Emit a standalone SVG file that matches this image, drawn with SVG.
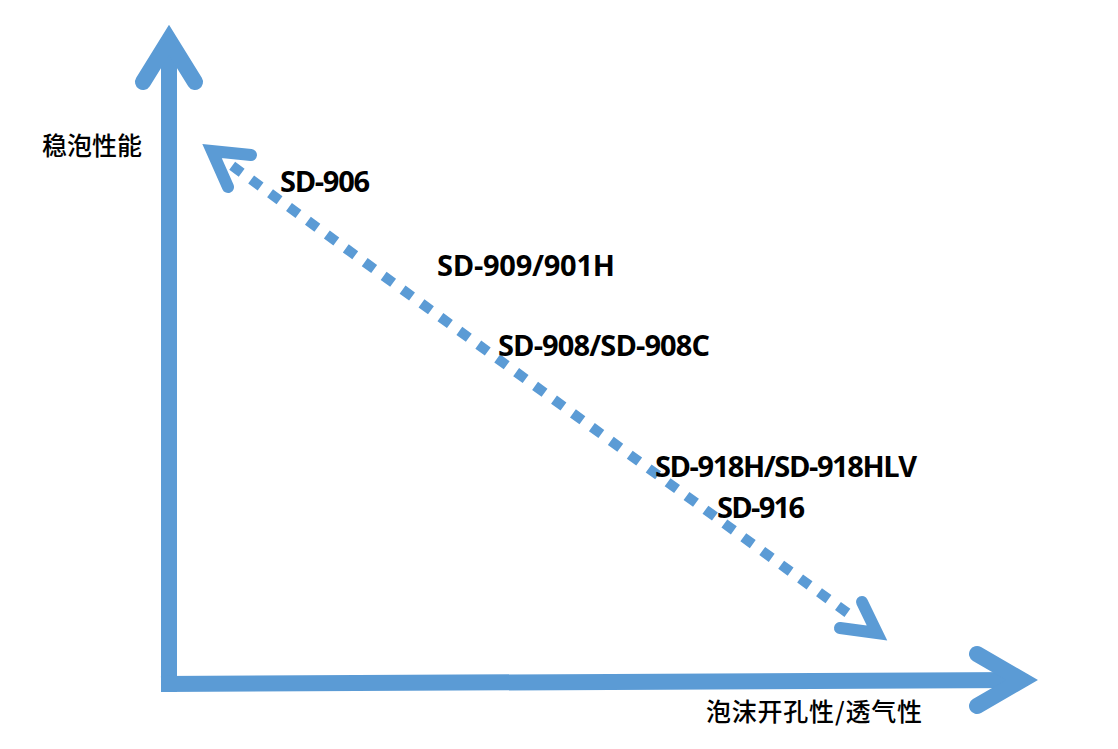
<svg xmlns="http://www.w3.org/2000/svg" width="1118" height="749" viewBox="0 0 1118 749">
<style>
.ax{fill:none;stroke:#5B9BD5;stroke-width:16;stroke-linecap:butt}
.hd{fill:none;stroke:#5B9BD5;stroke-width:16;stroke-linecap:round;stroke-linejoin:miter;stroke-miterlimit:10}
.dot{fill:none;stroke:#5B9BD5;stroke-width:10;stroke-dasharray:11.7 11.7}
.dh{fill:none;stroke:#5B9BD5;stroke-width:12;stroke-linecap:round;stroke-linejoin:miter;stroke-miterlimit:10}
.lb{font-family:"Open Sans","Liberation Sans",sans-serif;font-weight:700;font-size:29px;fill:#000}
.cn{font-family:"Noto Sans CJK SC","Noto Sans",sans-serif;font-weight:500;font-size:25px;fill:#000}
</style>
<rect width="1118" height="749" fill="#fff"/>
<g id="connectors">
  <path class="ax" d="M169,692 L169,42"/>
  <path class="hd" d="M143,82 L169,40 L195,82"/>
  <path class="ax" d="M161,684 L1020,680"/>
  <path class="hd" d="M977,654 L1022,680 L977,706"/>
  <path class="dot" d="M232.2,165.8 L847.6,613"/>
  <path class="dh" d="M251,155 L212,151 L228,187"/>
  <path class="dh" d="M862,602 L877,633 L840,628"/>
</g>
<g id="y-label"><text class="cn" x="42" y="155" textLength="100">稳泡性能</text></g>
<g id="x-label"><text class="cn" x="706" y="721" font-size="27" textLength="216">泡沫开孔性/透气性</text></g>
<g id="sd906"><text class="lb" x="280" y="192" textLength="90">SD-906</text></g>
<g id="sd909"><text class="lb" x="437" y="276" textLength="178">SD-909/901H</text></g>
<g id="sd908"><text class="lb" x="498" y="356" textLength="212">SD-908/SD-908C</text></g>
<g id="sd918"><text class="lb" x="655" y="477" textLength="262">SD-918H/SD-918HLV</text></g>
<g id="sd916"><text class="lb" x="717" y="518" textLength="88">SD-916</text></g>
</svg>
